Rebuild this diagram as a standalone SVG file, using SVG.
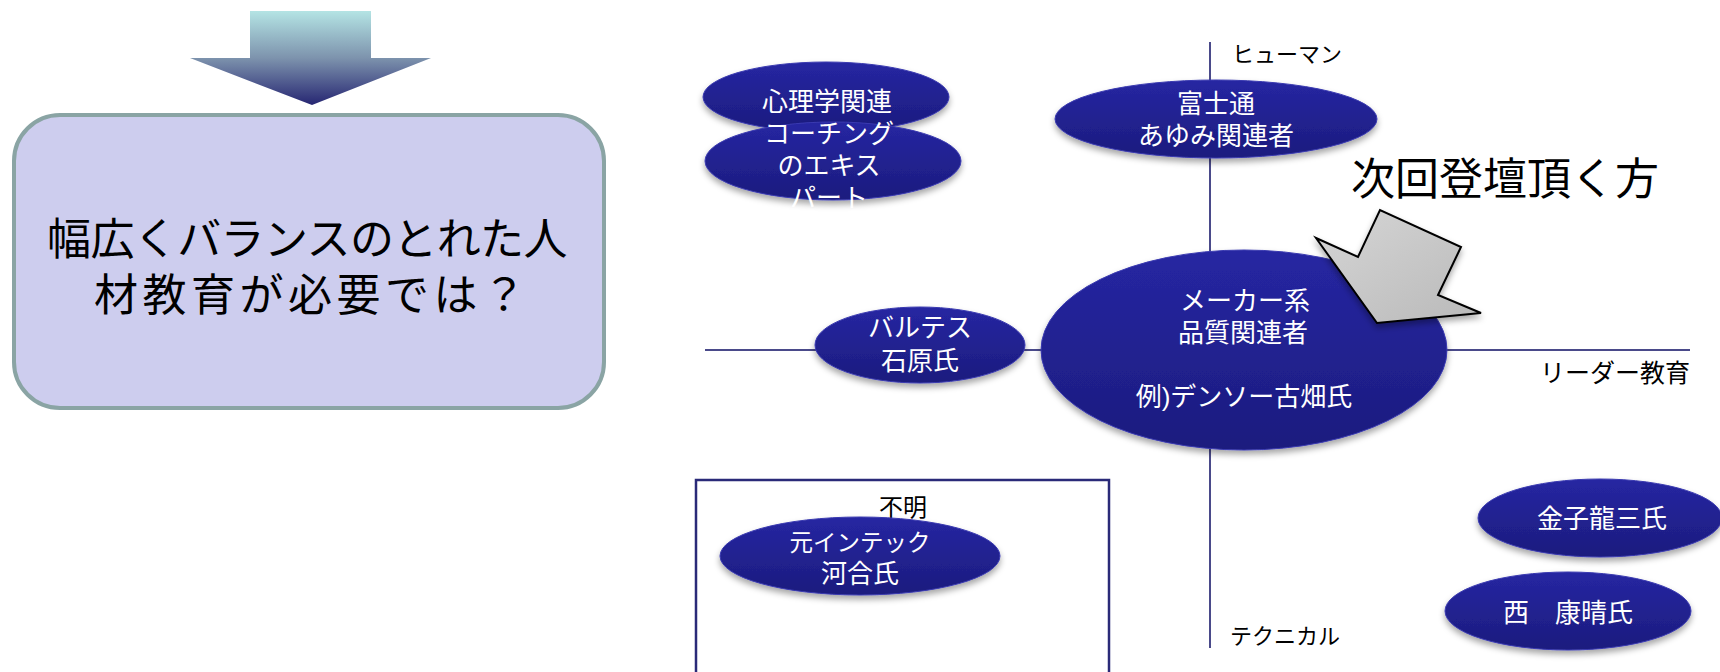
<svg xmlns="http://www.w3.org/2000/svg" width="1720" height="672" viewBox="0 0 1720 672">
<defs>
<linearGradient id="gArrow" x1="0" y1="0" x2="0" y2="1">
<stop offset="0" stop-color="#b4e4e4"/>
<stop offset="0.5" stop-color="#7d93ad"/>
<stop offset="1" stop-color="#262672"/>
</linearGradient>
<linearGradient id="gNode" x1="0" y1="0" x2="0" y2="1">
<stop offset="0" stop-color="#2626a2"/>
<stop offset="1" stop-color="#1c1c7e"/>
</linearGradient>
<linearGradient id="gGray" x1="0" y1="0" x2="1" y2="1">
<stop offset="0" stop-color="#d6d6d6"/>
<stop offset="1" stop-color="#b9b9b9"/>
</linearGradient>
<filter id="shadow" x="-20%" y="-20%" width="140%" height="160%">
<feDropShadow dx="0" dy="4" stdDeviation="3" flood-color="#000" flood-opacity="0.35"/>
</filter>
</defs>
<style>
.node{fill:url(#gNode);stroke:#3a3ab0;stroke-width:1;filter:url(#shadow)}
.nt{font-family:"Liberation Sans","Noto Sans CJK JP",sans-serif;font-size:26px;fill:#fff;text-anchor:middle}
.lab{font-family:"Liberation Sans","Noto Sans CJK JP",sans-serif;font-size:22px;fill:#000}
.big{font-family:"Liberation Sans","Noto Sans CJK JP",sans-serif;font-size:44px;fill:#000}
.axis{stroke:#4a4a8a;stroke-width:2;fill:none}
</style>
<rect width="1720" height="672" fill="#fff"/>

<g id="top-arrow">
<polygon points="250,11 371,11 371,58 431,58 312,105 190,58 250,58" fill="url(#gArrow)"/>
</g>

<g id="question-box">
<rect x="14" y="115" width="590" height="293" rx="46" ry="46" fill="#cdcdee" stroke="#8aa4a4" stroke-width="4"/>
<text class="big" x="47" y="255" letter-spacing="-0.6">幅広くバランスのとれた人</text>
<text class="big" x="94" y="311" letter-spacing="4.5">材教育が必要では？</text>
</g>

<g id="connectors">
<line class="axis" x1="1210" y1="42" x2="1210" y2="648"/>
<line class="axis" x1="705" y1="350" x2="1690" y2="350"/>
</g>

<g id="axis-labels">
<text class="lab" x="1232" y="62">ヒューマン</text>
<text class="lab" x="1540" y="382" style="font-size:25px">リーダー教育</text>
<text class="lab" x="1230" y="644">テクニカル</text>
</g>

<g id="unknown-box">
<rect x="696" y="480" width="413" height="200" fill="none" stroke="#2a2a78" stroke-width="2.5"/>
<text x="903" y="516" font-family="'Liberation Sans','Noto Sans CJK JP',sans-serif" font-size="24" text-anchor="middle" fill="#000">不明</text>
</g>

<g id="node-psych">
<ellipse class="node" cx="826" cy="97" rx="123" ry="35"/>
<text class="nt" x="827" y="111">心理学関連</text>
</g>

<g id="node-coaching">
<ellipse class="node" cx="833" cy="161" rx="128" ry="39"/>
<text class="nt" x="829" y="143">コーチング</text>
<text class="nt" x="829" y="175">のエキス</text>
<text class="nt" x="829" y="207">パート</text>
</g>

<g id="node-fujitsu">
<ellipse class="node" cx="1216" cy="119" rx="161" ry="39"/>
<text class="nt" x="1216" y="113">富士通</text>
<text class="nt" x="1216" y="145">あゆみ関連者</text>
</g>

<g id="node-maker">
<ellipse class="node" cx="1244" cy="350" rx="203" ry="100"/>
<text class="nt" x="1245" y="310">メーカー系</text>
<text class="nt" x="1243" y="342">品質関連者</text>
<text class="nt" x="1244" y="406">例)デンソー古畑氏</text>
</g>

<g id="node-valtes">
<ellipse class="node" cx="920" cy="345" rx="105" ry="38"/>
<text class="nt" x="920" y="337">バルテス</text>
<text class="nt" x="920" y="370">石原氏</text>
</g>

<g id="node-intec">
<ellipse class="node" cx="860" cy="556" rx="140" ry="39"/>
<text class="nt" x="860" y="551" style="font-size:23.5px">元インテック</text>
<text class="nt" x="860" y="583">河合氏</text>
</g>

<g id="node-kaneko">
<ellipse class="node" cx="1600" cy="518" rx="122" ry="39"/>
<text class="nt" x="1602" y="528">金子龍三氏</text>
</g>

<g id="node-nishi">
<ellipse class="node" cx="1568" cy="611" rx="123" ry="39"/>
<text class="nt" x="1568" y="622">西　康晴氏</text>
</g>

<g id="callout">
<polygon points="1316,238 1358,257 1380,210 1461,247 1438,295 1481,313 1377,323" fill="url(#gGray)" stroke="#000" stroke-width="2" stroke-linejoin="miter" filter="url(#shadow)"/>
<text class="big" x="1505" y="195" text-anchor="middle">次回登壇頂く方</text>
</g>
</svg>
